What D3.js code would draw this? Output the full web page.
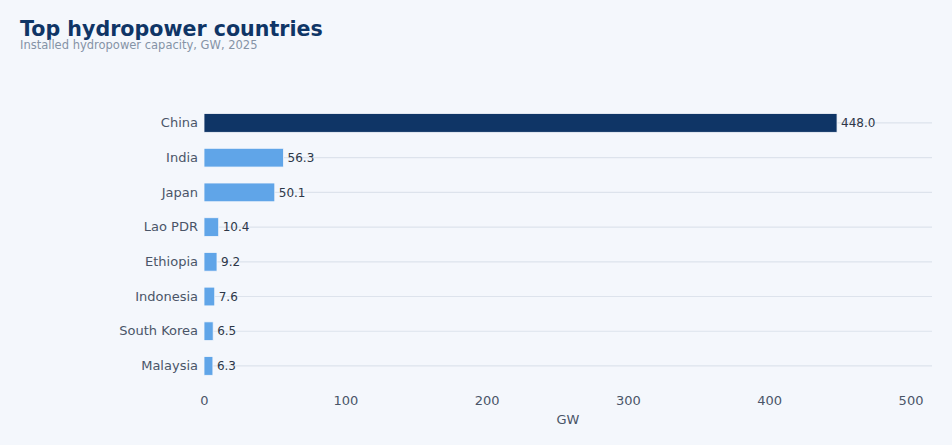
<!DOCTYPE html>
<html>
<head>
<meta charset="utf-8">
<script src="https://cdn.jsdelivr.net/npm/d3@7"></script>
<style>
  body { margin: 0; background: #f4f7fc; font-family: "DejaVu Sans", sans-serif; }
  svg { display: block; }
</style>
</head>
<body>
<div id="chart"></div>
<script>
// chart values
var countries = ["China", "India", "Japan", "Lao PDR", "Ethiopia", "Indonesia", "South Korea", "Malaysia"];
var capacity = [448.0, 56.3, 50.1, 10.4, 9.2, 7.6, 6.5, 6.3];
var xTicks = [0, 100, 200, 300, 400, 500];

var width = 952, height = 445;
var margin = {top: 105.6, right: 20, bottom: 61.7, left: 204};
var innerW = width - margin.left - margin.right;
var innerH = height - margin.top - margin.bottom;

var data = countries.map(function(c, i) { return {name: c, value: capacity[i]}; });

var svg = d3.select("#chart")
  .append("svg")
    .attr("width", width)
    .attr("height", height);

svg.append("rect")
  .attr("width", width)
  .attr("height", height)
  .attr("fill", "#f4f7fc");

// title
svg.append("text")
  .attr("x", 20)
  .attr("y", 36)
  .attr("fill", "#0f3566")
  .style("font-size", "20.6px")
  .style("font-weight", "bold")
  .text("Top hydropower countries");

svg.append("text")
  .attr("x", 20)
  .attr("y", 49)
  .attr("fill", "#8593a6")
  .style("font-size", "11.5px")
  .text("Installed hydropower capacity, GW, 2025");

var g = svg.append("g")
  .attr("transform", "translate(" + margin.left + "," + margin.top + ")");

var x = d3.scaleLinear()
  .domain([0, d3.max(capacity) * 1.15])
  .range([0, innerW]);

var y = d3.scaleBand()
  .domain(countries)
  .range([0, innerH])
  .paddingInner(0.46)
  .paddingOuter(0.23);

// gridlines at each category
g.selectAll(".grid")
  .data(data)
  .enter().append("line")
    .attr("class", "grid")
    .attr("x1", 0)
    .attr("x2", innerW)
    .attr("y1", function(d) { return y(d.name) + y.bandwidth() / 2; })
    .attr("y2", function(d) { return y(d.name) + y.bandwidth() / 2; })
    .attr("stroke", "#dde3ec")
    .attr("stroke-width", 1.2);

// bars
g.selectAll(".bar")
  .data(data)
  .enter().append("rect")
    .attr("class", "bar")
    .attr("x", x(0))
    .attr("y", function(d) { return y(d.name); })
    .attr("width", function(d) { return x(d.value) - x(0); })
    .attr("height", y.bandwidth())
    .attr("fill", function(d, i) { return i == 0 ? "#0f3566" : "#60a5e8"; })
    .attr("stroke", "#f4f7fc")
    .attr("stroke-width", 0.8);

// value labels
g.selectAll(".val")
  .data(data)
  .enter().append("text")
    .attr("class", "val")
    .attr("x", function(d) { return x(d.value) + 4; })
    .attr("y", function(d) { return y(d.name) + y.bandwidth() / 2; })
    .attr("dy", "0.35em")
    .attr("fill", "#2d3748")
    .style("font-size", "12px")
    .text(function(d) { return d.value.toFixed(1); });

// y axis labels
var yAx = g.append("g")
  .call(d3.axisLeft(y).tickSize(0).tickPadding(6));
yAx.select(".domain").remove();
yAx.selectAll("text")
  .attr("fill", "#4a5568")
  .style("font-size", "13px")
  .style("font-family", "DejaVu Sans, sans-serif");

// x axis
var xAx = g.append("g")
  .attr("transform", "translate(0," + innerH + ")")
  .call(d3.axisBottom(x).tickValues(xTicks).tickSize(0).tickPadding(12));
xAx.select(".domain").remove();
xAx.selectAll("text")
  .attr("fill", "#4a5568")
  .style("font-size", "13px")
  .style("font-family", "DejaVu Sans, sans-serif");

g.append("text")
  .attr("x", innerW / 2)
  .attr("y", innerH + 41)
  .attr("text-anchor", "middle")
  .attr("fill", "#4a5568")
  .style("font-size", "13px")
  .text("GW");
</script>
</body>
</html>
